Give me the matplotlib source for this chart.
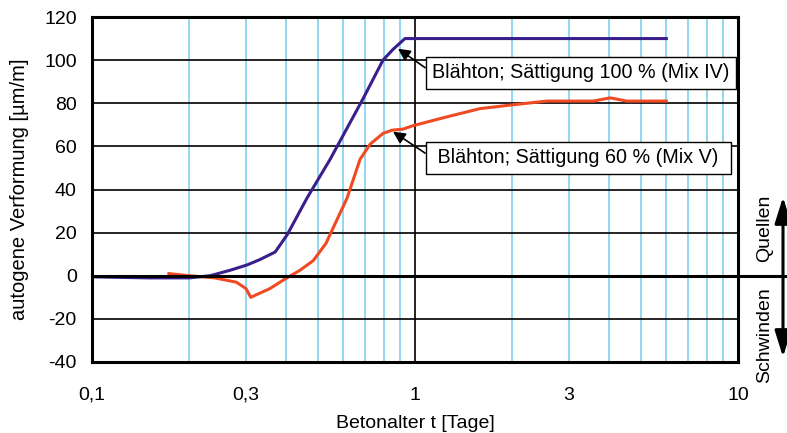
import numpy as np
import matplotlib
matplotlib.use("Agg")
from matplotlib import pyplot as plt

plt.rcParams['font.family'] = ['Liberation Sans', 'DejaVu Sans']
plt.rcParams['axes.unicode_minus'] = False

# Mix IV (Sättigung 100 %)
t_mix4 = [0.1, 0.15, 0.2, 0.232, 0.267, 0.302, 0.331, 0.369, 0.402, 0.463,
          0.546, 0.69, 0.796, 0.855, 0.931, 6.0]
e_mix4 = [-0.5, -1, -1, 0, 2.5, 5, 7.5, 11, 19, 36, 54, 82, 100, 105, 110, 110]

# Mix V (Sättigung 60 %)
t_mix5 = [0.173, 0.2, 0.24, 0.28, 0.30, 0.31, 0.355, 0.396, 0.44, 0.484, 0.53,
          0.616, 0.676, 0.726, 0.796, 0.849, 0.918, 0.986, 1.256, 1.589, 2.01,
          2.56, 3.56, 4.02, 4.53, 6.0]
e_mix5 = [1, 0, -1, -3, -6, -10, -6, -1.5, 2.5, 7, 15, 36, 54, 61, 66, 67.5,
          68, 69.6, 73.7, 77.5, 79.3, 81, 81, 82.5, 81, 81]

x_ticks = [0.1, 0.3, 1, 3, 10]
x_labels = ["0,1", "0,3", "1", "3", "10"]
y_ticks = [-40, -20, 0, 20, 40, 60, 80, 100, 120]

fig = plt.figure(figsize=(7.87, 4.33), dpi=100)
ax = fig.add_axes([92 / 787, 1 - 362 / 433, (738 - 92) / 787, (362 - 17) / 433])
ax.set_xscale('log')
ax.set_xlim(0.1, 10)
ax.set_ylim(-40, 120)

# Gitter
for m in list(np.arange(2, 10) * 0.1) + list(np.arange(2, 10) * 1.0):
    ax.axvline(m, color='#7fd0ee', linewidth=1.2, zorder=1)
ax.axvline(1, color='black', linewidth=1.2, zorder=1)
for y in y_ticks:
    ax.axhline(y, color='black', linewidth=1.2, zorder=1)

ax.plot(t_mix4, e_mix4, color='#3a1f8c', linewidth=2.2, zorder=3)
ax.plot(t_mix5, e_mix5, color='#f04a23', linewidth=2.2, zorder=3)

# Nulllinie bis in den rechten Rand
ax.plot([0.1, 15.5], [0, 0], color='black', linewidth=2.2, clip_on=False, zorder=4)

ax.set_xticks(x_ticks)
ax.set_xticklabels(x_labels)
ax.xaxis.set_minor_locator(matplotlib.ticker.NullLocator())
ax.set_yticks(y_ticks)
ax.tick_params(axis='x', length=0, labelsize=14, pad=18)
ax.tick_params(axis='y', length=0, labelsize=14, pad=11)
for s in ax.spines.values():
    s.set_linewidth(2.2)

ax.set_xlabel("Betonalter t [Tage]", fontsize=14, labelpad=8)
ax.set_ylabel("autogene Verformung [µm/m]", fontsize=14.5, labelpad=11)

box = dict(boxstyle='square,pad=0.33', fc='white', ec='black', lw=1.0)
arr = dict(arrowstyle='-|>', color='black', lw=1.2, mutation_scale=18,
           relpos=(0, 0.5), shrinkA=0, shrinkB=0)
ax.annotate("Blähton; Sättigung 100 % (Mix IV)", xy=(0.886, 105.3), xytext=(1.13, 94.2),
            fontsize=14.2, bbox=box, arrowprops=arr, va='center', ha='left', zorder=5)
ax.annotate(" Blähton; Sättigung 60 % (Mix V) ", xy=(0.855, 66.8), xytext=(1.13, 54.7),
            fontsize=14.2, bbox=box, arrowprops=arr, va='center', ha='left', zorder=5)

# Quellen / Schwinden
fig.text(765 / 787, 1 - 228 / 433, "Quellen", rotation=90, fontsize=14,
         ha='center', va='center')
fig.text(765 / 787, 1 - 335 / 433, "Schwinden", rotation=90, fontsize=14,
         ha='center', va='center')
for y_end in (197, 357):
    fig.patches.append(matplotlib.patches.FancyArrowPatch(
        (783 / 787, 1 - 277 / 433), (783 / 787, 1 - y_end / 433),
        transform=fig.transFigure, arrowstyle='-|>,head_length=0.8,head_width=0.25',
        mutation_scale=20, lw=2.2, color='black', shrinkA=0, shrinkB=0))

fig.savefig("out.png", dpi=100)
plt.close(fig)
